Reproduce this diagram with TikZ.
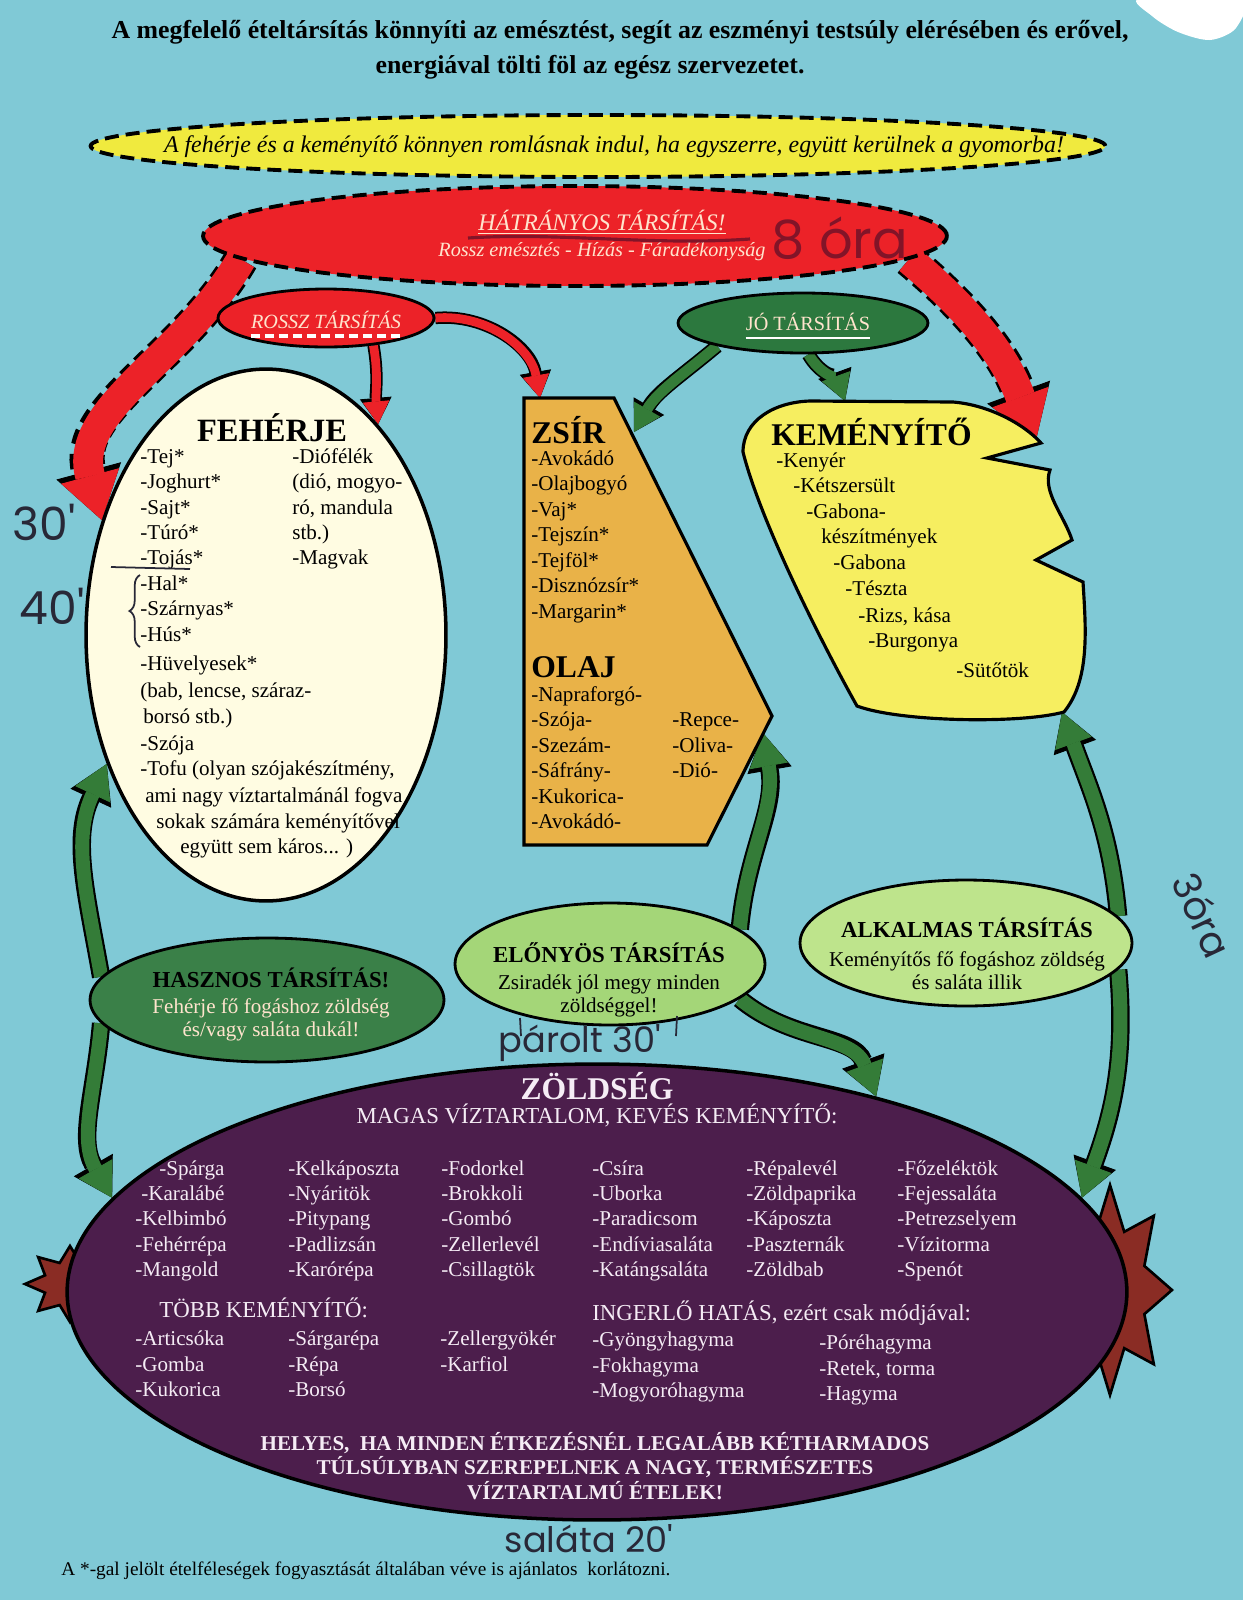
\documentclass[tikz,border=0pt]{standalone}
\usepackage{fontspec}
\setmainfont{Liberation Serif}
\newfontfamily\handfont{Poppins}
\usetikzlibrary{arrows.meta,shapes.geometric,decorations.pathreplacing}
\definecolor{SkyBack}{RGB}{128,201,214}
\definecolor{WarnYellow}{RGB}{240,234,62}
\definecolor{BadRed}{RGB}{236,34,40}
\definecolor{PaleText}{RGB}{255,228,205}
\definecolor{GoodGreen}{RGB}{44,120,62}
\definecolor{EggCream}{RGB}{255,252,226}
\definecolor{FatOrange}{RGB}{233,178,72}
\definecolor{StarchYellow}{RGB}{246,238,96}
\definecolor{UsefulGreen}{RGB}{58,128,72}
\definecolor{NiceGreen}{RGB}{164,214,120}
\definecolor{FitGreen}{RGB}{190,228,140}
\definecolor{VegPurple}{RGB}{76,30,76}
\definecolor{StemBrown}{RGB}{138,44,36}
\definecolor{ArrowGreen}{RGB}{52,124,56}
\definecolor{InkDark}{RGB}{40,40,55}
\definecolor{InkRed}{RGB}{130,20,40}
\definecolor{VegText}{RGB}{245,236,245}
\newcommand\setfs[2]{\fontsize{#1}{#2}\selectfont}
\pgfdeclarelayer{bg}
\pgfdeclarelayer{back}
\pgfsetlayers{bg,back,main}

\begin{document}
\begin{tikzpicture}[x=0.02cm,y=-0.02cm,>=Latex,
  item/.style={font=\setfs{12}{14},inner sep=0pt,anchor=west,text height=8.5pt,text depth=2.5pt},
  vegitem/.style={item,text=VegText},
  head/.style={font=\bfseries\setfs{18}{21},inner sep=0pt,anchor=west},
  bubble/.style={ellipse,draw=black,line width=1.6pt,inner sep=0pt},
  dashbubble/.style={bubble,line width=2.2pt,dash pattern=on 8pt off 4pt},
  hand/.style={font=\handfont\setfs{26}{28},text=InkDark,inner sep=0pt},
  fatred/.style={line width=17pt,draw=BadRed,-{Triangle[width=34pt,length=26pt,line width=0.5pt]},
    preaction={draw=black,line width=20pt,dash pattern=on 7pt off 4pt,-{Triangle[width=38pt,length=29pt,line width=0.5pt]}}},
  thinred/.style={line width=5pt,draw=BadRed,-{Triangle[width=15pt,length=13pt,line width=0.5pt]},
    preaction={draw=black,line width=7pt,-{Triangle[width=18pt,length=15pt,line width=0.5pt]}}},
  greenarrow/.style={line width=8pt,draw=ArrowGreen,-{Triangle[width=22pt,length=19pt,line width=0.5pt]},
    preaction={draw=black,line width=10.5pt,-{Triangle[width=25.5pt,length=21.5pt,line width=0.5pt]}}},
  thingreen/.style={line width=6pt,draw=ArrowGreen,-{Triangle[width=17pt,length=15pt,line width=0.5pt]},
    preaction={draw=black,line width=8pt,-{Triangle[width=20pt,length=17pt,line width=0.5pt]}}}]
\useasboundingbox (0,0) rectangle (1243,1600);
\begin{pgfonlayer}{bg}
\fill[SkyBack] (0,0) rectangle (1243,1600);
\fill[white] plot[smooth cycle] coordinates {(1140,-2) (1240,-2) (1236,28) (1210,40) (1178,32) (1152,16)};
\end{pgfonlayer}

% heading
\node[font=\bfseries\setfs{14.7}{17},inner sep=0pt] (lead1) at (620,32) {A megfelelő ételtársítás könnyíti az emésztést, segít az eszményi testsúly elérésében és erővel,};
\node[font=\bfseries\setfs{14.7}{17},inner sep=0pt] (lead2) at (590,67) {energiával tölti föl az egész szervezetet.};

% warning bubbles
\node[dashbubble,fill=WarnYellow,minimum width=20.3cm,minimum height=1.24cm] (warn) at (598,146) {};
\node[font=\itshape\setfs{13.6}{16},inner sep=0pt] (warnT) at (614,147) {A fehérje és a keményítő könnyen romlásnak indul, ha egyszerre, együtt kerülnek a gyomorba!};
\node[dashbubble,fill=BadRed,minimum width=14.88cm,minimum height=2cm] (hatr) at (575,236) {};
\node[font=\itshape\setfs{13.5}{16},text=PaleText,inner sep=0pt] (hatrT) at (602,222) {\underline{HÁTRÁNYOS TÁRSÍTÁS!}};
\node[font=\itshape\setfs{11.5}{14},text=PaleText,inner sep=0pt] (hatrS) at (602,252) {Rossz emésztés - Hízás - Fáradékonyság};
\node[hand,text=InkRed,font=\handfont\setfs{30}{32}] (eight) at (840,238) {8 óra};
\draw[InkRed,line width=1.8pt] (468,238) .. controls (560,232) and (650,246) .. (750,239);

\node[bubble,fill=BadRed,minimum width=4.32cm,minimum height=1.16cm] (rossz) at (326,318) {};
\node[font=\itshape\setfs{11.5}{14},text=PaleText,inner sep=0pt] (rosszT) at (326,320) {ROSSZ TÁRSÍTÁS};
\draw[white,line width=2.5pt,dash pattern=on 5pt off 3pt] ([yshift=-4pt]rosszT.south west) -- ([yshift=-4pt]rosszT.south east);
\node[bubble,fill=GoodGreen,minimum width=5cm,minimum height=1.2cm] (jo) at (803,323) {};
\node[font=\setfs{11.5}{14},text=PaleText,inner sep=0pt] (joT) at (808,322) {JÓ TÁRSÍTÁS};
\draw[white,line width=1.5pt] ([yshift=-4pt]joT.south west) -- ([yshift=-4pt]joT.south east);

% protein
\node[bubble,fill=EggCream,line width=2pt,minimum width=7.2cm,minimum height=10.64cm] (feh) at (266,635) {};
\node[head,anchor=center,font=\bfseries\setfs{18.5}{21}] (fehH) at (272,428) {FEHÉRJE};
\foreach \t [count=\n] in {-Tej*,-Joghurt*,-Sajt*,-Túró*,-Tojás*,-Hal*,-Szárnyas*,-Hús*}
  \node[item] (fehA\n) at (140,{458+25.4*(\n-1)}) {\t};
\foreach \xx/\yy/\t [count=\n] in {140/665/-Hüvelyesek*,140/692/{(bab, lencse, száraz-}, 143/718/{borsó stb.)},
    140/745/-Szója,140/770/{-Tofu (olyan szójakészítmény,},145/797/ami nagy víztartalmánál fogva,
    156/823/sokak számára keményítővel,180/848/{együtt sem káros... )}}
  \node[item] (fehB\n) at (\xx,\yy) {\t};
\foreach \t [count=\n] in {-Diófélék,{(dió, mogyo-},{ró, mandula},stb.),-Magvak}
  \node[item] (fehC\n) at (292,{458+25.4*(\n-1)}) {\t};

% fat
\draw[line width=1.8pt,fill=FatOrange] (524,398) -- (614,398) -- (772,716) -- (707,845) -- (524,845) -- cycle;
\coordinate (zsirN) at (540,398);
\coordinate (zsirNE) at (634,432);
\coordinate (zsirSE) at (763,733);
\node[head] (zsirH) at (531,430) {ZSÍR};
\foreach \t [count=\n] in {-Avokádó,-Olajbogyó,-Vaj*,-Tejszín*,-Tejföl*,-Disznózsír*,-Margarin*}
  \node[item] (zsirA\n) at (531,{460+25.5*(\n-1)}) {\t};
\node[head] (olajH) at (531,667) {OLAJ};
\foreach \t [count=\n] in {-Napraforgó-,-Szója-,-Szezám-,-Sáfrány-,-Kukorica-,-Avokádó-}
  \node[item] (olajA\n) at (531,{696+25.5*(\n-1)}) {\t};
\foreach \t [count=\n] in {-Repce-,-Oliva-,-Dió-}
  \node[item] (olajB\n) at (672,{721.5+25.5*(\n-1)}) {\t};

% starch
\draw[line width=1.8pt,fill=StarchYellow] (1041,443) -- (987,458) -- (1050,470)
  .. controls (1042,492) and (1064,515) .. (1072,540) -- (1036,560) -- (1083,582)
  .. controls (1086,630) and (1090,680) .. (1064,712)
  .. controls (1020,724) and (900,722) .. (857,706)
  .. controls (820,640) and (760,520) .. (743,452)
  .. controls (743,420) and (775,402) .. (810,401) -- (953,402)
  .. controls (990,405) and (1025,425) .. (1041,443) -- cycle;
\coordinate (kemN) at (845,401);
\coordinate (kemNE) at (1036,440);
\coordinate (kemSE) at (1062,712);
\node[head] (kemH) at (771,432) {KEMÉNYÍTŐ};
\foreach \xx/\yy/\t [count=\n] in {776/462/-Kenyér,793/487/-Kétszersült,806/513/-Gabona-,821/538/készítmények,
    833/564/-Gabona,845/590/-Tészta,858/617/{-Rizs, kása},868/642/-Burgonya,956/672/-Sütőtök}
  \node[item] (kemA\n) at (\xx,\yy) {\t};

% hints
\node[bubble,fill=UsefulGreen,minimum width=7.08cm,minimum height=2.48cm] (hasz) at (267,1000) {};
\node[font=\bfseries\setfs{13}{15},inner sep=0pt] (haszT) at (271,978) {HASZNOS TÁRSÍTÁS!};
\node[font=\setfs{12}{14},text=PaleText,inner sep=0pt,align=center] (haszS) at (271,1020) {Fehérje fő fogáshoz zöldség\\[-1pt]és/vagy saláta dukál!};
\node[bubble,fill=NiceGreen,minimum width=6.2cm,minimum height=2.44cm] (elo) at (610,964) {};
\node[font=\bfseries\setfs{13}{15},inner sep=0pt] (eloT) at (609,953) {ELŐNYÖS TÁRSÍTÁS};
\node[font=\setfs{12}{14},inner sep=0pt,align=center] (eloS) at (609,996) {Zsiradék jól megy minden\\[-1pt]zöldséggel!};
\node[bubble,fill=FitGreen,minimum width=6.64cm,minimum height=2.52cm] (alk) at (966,943) {};
\node[font=\bfseries\setfs{13}{15},inner sep=0pt] (alkT) at (967,928) {ALKALMAS TÁRSÍTÁS};
\node[font=\setfs{12}{14},inner sep=0pt,align=center] (alkS) at (967,971) {Keményítős fő fogáshoz zöldség\\[-1pt]és saláta illik};

% vegetables
\begin{pgfonlayer}{back}
\draw[line width=1.5pt,fill=StemBrown] plot[domain=0:337.5,samples=16]
  ({1110+62*(0.8+0.2*cos(8*\x))*cos(\x)},{1290+105*(0.8+0.2*cos(8*\x))*sin(\x)}) -- cycle;
\draw[line width=1.5pt,fill=StemBrown] plot[domain=0:337.5,samples=16]
  ({70+45*(0.8+0.2*cos(8*\x))*cos(\x)},{1284+38*(0.8+0.2*cos(8*\x))*sin(\x)}) -- cycle;
\end{pgfonlayer}
\node[bubble,fill=VegPurple,line width=2pt,minimum width=21.2cm,minimum height=9.12cm] (zold) at (597,1292) {};
\node[font=\bfseries\setfs{18}{21},text=VegText,inner sep=0pt] (zoldH) at (597,1086) {ZÖLDSÉG};
\node[font=\setfs{13}{15},text=VegText,inner sep=0pt] (zoldS) at (597,1115) {MAGAS VÍZTARTALOM, KEVÉS KEMÉNYÍTŐ:};
\foreach \xx/\t [count=\n] in {159/-Spárga,141/-Karalábé,135/-Kelbimbó,135/-Fehérrépa,135/-Mangold}
  \node[vegitem] (vA\n) at (\xx,{1170+25.3*(\n-1)}) {\t};
\foreach \t [count=\n] in {-Kelkáposzta,-Nyáritök,-Pitypang,-Padlizsán,-Karórépa}
  \node[vegitem] (vB\n) at (288,{1170+25.3*(\n-1)}) {\t};
\foreach \t [count=\n] in {-Fodorkel,-Brokkoli,-Gombó,-Zellerlevél,-Csillagtök}
  \node[vegitem] (vC\n) at (441,{1170+25.3*(\n-1)}) {\t};
\foreach \t [count=\n] in {-Csíra,-Uborka,-Paradicsom,-Endíviasaláta,-Katángsaláta}
  \node[vegitem] (vD\n) at (592,{1170+25.3*(\n-1)}) {\t};
\foreach \t [count=\n] in {-Répalevél,-Zöldpaprika,-Káposzta,-Paszternák,-Zöldbab}
  \node[vegitem] (vE\n) at (746,{1170+25.3*(\n-1)}) {\t};
\foreach \t [count=\n] in {-Főzeléktök,-Fejessaláta,-Petrezselyem,-Vízitorma,-Spenót}
  \node[vegitem] (vF\n) at (897,{1170+25.3*(\n-1)}) {\t};
\node[vegitem,font=\setfs{13}{15}] (moreH) at (159,1312) {TÖBB KEMÉNYÍTŐ:};
\node[vegitem,font=\setfs{13}{15}] (hotH) at (592,1315) {INGERLŐ HATÁS, ezért csak módjával:};
\foreach \t [count=\n] in {-Articsóka,-Gomba,-Kukorica}
  \node[vegitem] (mA\n) at (135,{1340+25.8*(\n-1)}) {\t};
\foreach \t [count=\n] in {-Sárgarépa,-Répa,-Borsó}
  \node[vegitem] (mB\n) at (288,{1340+25.8*(\n-1)}) {\t};
\foreach \t [count=\n] in {-Zellergyökér,-Karfiol}
  \node[vegitem] (mC\n) at (440,{1340+25.8*(\n-1)}) {\t};
\foreach \t [count=\n] in {-Gyöngyhagyma,-Fokhagyma,-Mogyoróhagyma}
  \node[vegitem] (hA\n) at (592,{1341+25.8*(\n-1)}) {\t};
\foreach \t [count=\n] in {-Póréhagyma,{-Retek, torma},-Hagyma}
  \node[vegitem] (hB\n) at (819,{1344+25.8*(\n-1)}) {\t};
\node[font=\bfseries\setfs{12}{13.8},text=VegText,inner sep=0pt,align=center] (rule) at (595,1466)
  {HELYES,\ \ HA MINDEN ÉTKEZÉSNÉL LEGALÁBB KÉTHARMADOS\\TÚLSÚLYBAN SZEREPELNEK A NAGY, TERMÉSZETES\\VÍZTARTALMÚ ÉTELEK!};
\node[font=\setfs{11}{13},inner sep=0pt,anchor=west] (note) at (61,1571) {A *-gal jelölt ételféleségek fogyasztását általában véve is ajánlatos\ \ korlátozni.};

% connectors
\begin{pgfonlayer}{back}
\draw[fatred] (hatr.184) to[out=240,in=105] (feh.145);
\draw[fatred] (hatr.-4) to[out=-40,in=110] (kemNE);
\draw[thinred] (rossz.-30) to[out=-80,in=95] (feh.62);
\draw[thinred] (rossz.east) to[out=5,in=100] (zsirN);
\draw[thingreen] (jo.-165) to[out=-140,in=60] (zsirNE);
\draw[thingreen] (jo.-80) to[out=-60,in=110] (kemN);
\draw[greenarrow] (hasz.172) to[out=100,in=-115] (feh.219);
\draw[greenarrow] (hasz.188) to[out=-95,in=120] (zold.169);
\draw[greenarrow] (elo.15) to[out=85,in=-80] (zsirSE);
\draw[greenarrow] (elo.-15) to[out=-40,in=110] (zold.35);
\draw[greenarrow] (alk.10) to[out=95,in=-70] (kemSE);
\draw[greenarrow] (alk.-10) to[out=-85,in=70] (zold.11);
\end{pgfonlayer}

% hand notes
\node[hand,font=\handfont\setfs{26}{28}] (t30) at (44,522) {30'};
\node[hand,font=\handfont\setfs{26}{28}] (t40) at (52,606) {40'};
\draw[InkDark,line width=1pt] (111,567) -- (190,569);
\draw[InkDark,line width=1pt,decorate,decoration={brace,amplitude=6pt}] (140,647) -- (140,575);
\node[hand,rotate=-65,font=\handfont\setfs{22}{24}] (t3h) at (1203,915) {3óra};
\node[hand,font=\handfont\setfs{20}{22}] (steam) at (580,1043) {párolt 30'};
\draw[InkDark,line width=1pt] (520,1018) -- (521,1036);
\draw[InkDark,line width=1pt] (677,1016) -- (676,1036);
\node[hand,font=\handfont\setfs{20}{22},text height=15pt,text depth=0pt,anchor=base] (salad) at (589,1552) {saláta 20'};
\end{tikzpicture}
\end{document}
